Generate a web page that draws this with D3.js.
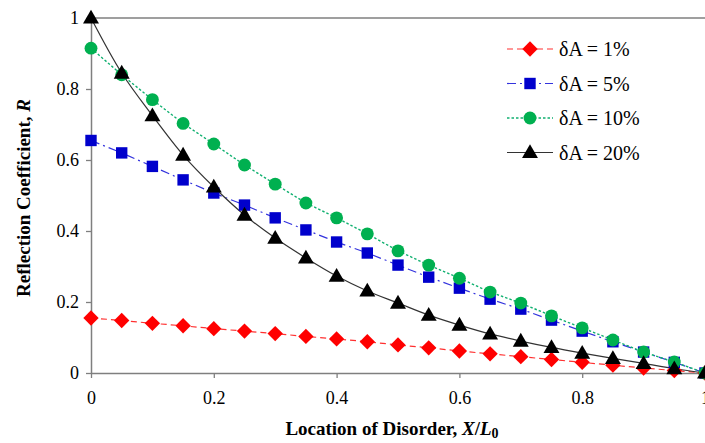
<!DOCTYPE html>
<html>
<head>
<meta charset="utf-8">
<script src="https://cdn.jsdelivr.net/npm/d3@7"></script>
<style>
  body { margin: 0; background: #fff; }
  text { font-family: "Liberation Serif", "Times New Roman", serif; }
</style>
</head>
<body>
<div id="chart"></div>
<script>
const xs = [0,0.05,0.1,0.15,0.2,0.25,0.3,0.35,0.4,0.45,0.5,0.55,0.6,0.65,0.7,0.75,0.8,0.85,0.9,0.95,1]
const r1 = [0.155,0.148,0.140,0.133,0.125,0.118,0.111,0.103,0.096,0.088,0.079,0.071,0.062,0.054,0.046,0.038,0.030,0.022,0.014,0.007,0]
const r5 = [0.655,0.620,0.582,0.544,0.507,0.473,0.437,0.403,0.369,0.338,0.304,0.270,0.239,0.208,0.180,0.149,0.118,0.088,0.059,0.030,0]
const r10 = [0.915,0.840,0.770,0.703,0.645,0.586,0.532,0.479,0.437,0.392,0.344,0.304,0.267,0.228,0.197,0.161,0.127,0.093,0.059,0.031,0]
const r20 = [1.0,0.845,0.725,0.614,0.524,0.445,0.380,0.324,0.273,0.231,0.197,0.163,0.135,0.110,0.090,0.072,0.056,0.041,0.027,0.012,0]
const seriesNames = ["δA = 1%","δA = 5%","δA = 10%","δA = 20%"]
const tickVals = [0,0.2,0.4,0.6,0.8,1]

const width = 705
const height = 443
const margin = {top: 18, right: 0, bottom: 70, left: 91}

const series = [
    {name: seriesNames[0], vals: r1, color: "#ff0000", line: "#ff3030", dash: "6,4", shape: d3.symbolDiamond2, size: 150, curve: d3.curveLinear, lw: 1.2},
    {name: seriesNames[1], vals: r5, color: "#0000cc", line: "#3333dd", dash: "9,4,2,4", shape: d3.symbolSquare, size: 130, curve: d3.curveLinear, lw: 1.2},
    {name: seriesNames[2], vals: r10, color: "#00b050", line: "#10b070", dash: "2.5,2", shape: d3.symbolCircle, size: 130, curve: d3.curveLinear, lw: 1.4},
    {name: seriesNames[3], vals: r20, color: "#000000", line: "#333333", dash: null, shape: d3.symbolTriangle, size: 110, curve: d3.curveCatmullRom, lw: 1.2}
]

const svg = d3.select("#chart")
    .append("svg")
    .attr("width", width)
    .attr("height", height)

svg.append("rect")
    .attr("width", width)
    .attr("height", height)
    .attr("fill", "#fff")

const x = d3.scaleLinear()
    .domain([0, 1])
    .range([margin.left, width - margin.right])

const y = d3.scaleLinear()
    .domain([0, 1])
    .range([height - margin.bottom, margin.top])

const fmt = d => String(+d.toFixed(1))

// frame top
svg.append("line")
    .attr("x1", x(0)).attr("x2", x(1))
    .attr("y1", y(1)).attr("y2", y(1))
    .attr("stroke", "#7f7f7f").attr("stroke-width", 1.3)

const xAxis = svg.append("g")
    .attr("transform", `translate(0,${y(0)})`)
    .call(d3.axisBottom(x).tickValues(tickVals).tickFormat(fmt).tickSize(5).tickSizeOuter(0))
const yAxis = svg.append("g")
    .attr("transform", `translate(${x(0)},0)`)
    .call(d3.axisLeft(y).tickValues(tickVals).tickFormat(fmt).tickSize(5).tickSizeOuter(0))

for (const g of [xAxis, yAxis]) {
    g.select(".domain").attr("stroke", "#7f7f7f").attr("stroke-width", 1.5)
    g.selectAll(".tick line").attr("stroke", "#7f7f7f").attr("stroke-width", 1.3)
    g.selectAll(".tick text")
        .attr("font-size", 18)
        .attr("fill", "#000")
}
xAxis.selectAll(".tick text").attr("dy", "1.25em")
yAxis.selectAll(".tick text").attr("x", -12)

// lines and markers
const plot = svg.append("g")
series.forEach(s => {
    const pts = xs.map((v, i) => [v, s.vals[i]])
    plot.append("path")
        .datum(pts)
        .attr("fill", "none")
        .attr("stroke", s.line)
        .attr("stroke-width", s.lw)
        .attr("stroke-dasharray", s.dash)
        .attr("d", d3.line().x(d => x(d[0])).y(d => y(d[1])).curve(s.curve))
})
series.forEach(s => {
    const pts = xs.map((v, i) => [v, s.vals[i]])
    plot.append("g")
        .selectAll("path")
        .data(pts)
        .join("path")
        .attr("transform", d => `translate(${x(d[0])},${y(d[1]) + (s.shape === d3.symbolTriangle ? 1 : 0)})`)
        .attr("d", d3.symbol().type(s.shape).size(s.size))
        .attr("fill", s.color)
})

// legend
const legend = svg.append("g")
series.forEach((s, i) => {
    const ly = 49 + i * 34.5
    legend.append("line")
        .attr("x1", 507).attr("x2", 553)
        .attr("y1", ly).attr("y2", ly)
        .attr("stroke", s.line)
        .attr("stroke-width", s.lw)
        .attr("stroke-dasharray", s.dash)
    legend.append("path")
        .attr("transform", `translate(530,${ly + (s.shape === d3.symbolTriangle ? 1 : 0)})`)
        .attr("d", d3.symbol().type(s.shape).size(s.size))
        .attr("fill", s.color)
    legend.append("text")
        .attr("x", 559)
        .attr("y", ly + 7)
        .attr("font-size", 20)
        .text(s.name)
})

// axis titles
const xt = svg.append("text")
    .attr("x", 392)
    .attr("y", 435)
    .attr("text-anchor", "middle")
    .attr("font-size", 19)
    .attr("font-weight", "bold")
xt.append("tspan").text("Location of Disorder, ")
xt.append("tspan").attr("font-style", "italic").text("X")
xt.append("tspan").text("/")
xt.append("tspan").attr("font-style", "italic").text("L")
xt.append("tspan").attr("font-size", 14).attr("dy", 3).text("0")

const yt = svg.append("text")
    .attr("transform", `translate(30,198) rotate(-90)`)
    .attr("text-anchor", "middle")
    .attr("font-size", 19)
    .attr("font-weight", "bold")
yt.append("tspan").text("Reflection Coefficient, ")
yt.append("tspan").attr("font-style", "italic").text("R")
</script>
</body>
</html>
